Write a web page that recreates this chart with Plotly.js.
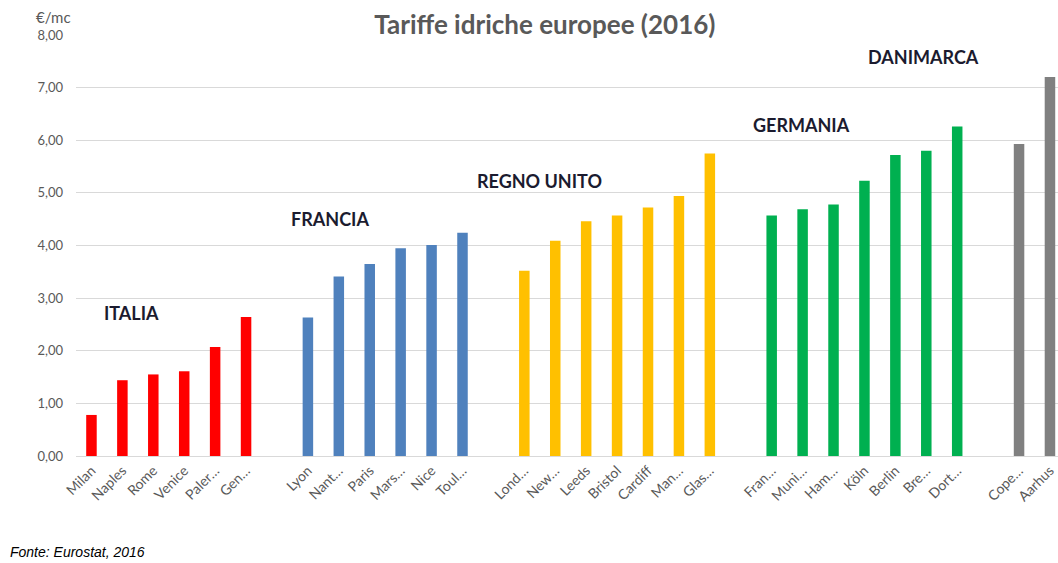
<!DOCTYPE html>
<html>
<head>
<meta charset="utf-8">
<script src="https://cdn.plot.ly/plotly-3.0.1.min.js"></script>
<style>html,body{margin:0;padding:0;background:#fff;}#chart{width:1058px;height:563px;}</style>
</head>
<body>
<div id="chart"></div>
<script>
// Data
const groupNames = ["ITALIA", "FRANCIA", "REGNO UNITO", "GERMANIA", "DANIMARCA"];
const groupColors = ["#ff0000", "#4f81bd", "#ffc000", "#00b050", "#808080"];
const italiaCities = ["Milan", "Naples", "Rome", "Venice", "Paler…", "Gen…"];
const italiaValues = [0.78, 1.44, 1.55, 1.61, 2.07, 2.64];
const franciaCities = ["Lyon", "Nant…", "Paris", "Mars…", "Nice", "Toul…"];
const franciaValues = [2.63, 3.41, 3.65, 3.95, 4.01, 4.24];
const regnoUnitoCities = ["Lond…", "New…", "Leeds", "Bristol", "Cardiff", "Man…", "Glas…"];
const regnoUnitoValues = [3.52, 4.09, 4.46, 4.57, 4.72, 4.94, 5.75];
const germaniaCities = ["Fran…", "Muni…", "Ham…", "Köln", "Berlin", "Bre…", "Dort…"];
const germaniaValues = [4.57, 4.69, 4.78, 5.23, 5.72, 5.80, 6.26];
const danimarcaCities = ["Cope…", "Aarhus"];
const danimarcaValues = [5.93, 7.20];

const groupCities = [italiaCities, franciaCities, regnoUnitoCities, germaniaCities, danimarcaCities];
const groupValues = [italiaValues, franciaValues, regnoUnitoValues, germaniaValues, danimarcaValues];

// Build positions: one empty slot between groups
const traces = [];
const tickvals = [], ticktext = [];
let pos = 0;
groupCities.forEach((cities, g) => {
  const xs = cities.map((c, i) => pos + i);
  xs.forEach((x, i) => { tickvals.push(x); ticktext.push(cities[i]); });
  traces.push({
    type: "bar",
    x: xs,
    y: groupValues[g],
    name: groupNames[g],
    width: 0.34,
    marker: {color: groupColors[g]},
    hoverinfo: "x+y"
  });
  pos += cities.length + 1;
});

// Group label anchors (data coords)
const labelX = [1.29, 7.73, 14.5, 22.98, 26.9];
const labelY = [2.72, 4.5, 5.23, 6.29, 7.59];

const W = 1058, H = 563, mL = 76, mR = 0, mT = 35, mB = 107;
const px2x = p => (p - mL) / (W - mL - mR);
const px2y = p => 1 - (p - mT) / (H - mT - mB);

const annotations = groupNames.map((n, i) => ({
  x: labelX[i], y: labelY[i], xref: "x", yref: "y",
  text: "<b>" + n + "</b>", showarrow: false,
  font: {family: "Lato, 'Open Sans', sans-serif", size: 18, color: "#1b1b2f"},
  xanchor: "center", yanchor: "middle"
}));
annotations.push({
  x: px2x(34), y: px2y(17), xref: "paper", yref: "paper", xanchor: "left", yanchor: "middle",
  text: "€/mc", showarrow: false,
  font: {family: "Lato, 'Open Sans', sans-serif", size: 15, color: "#595959"}
});
annotations.push({
  x: px2x(8), y: px2y(552), xref: "paper", yref: "paper", xanchor: "left", yanchor: "middle",
  text: "<i>Fonte: Eurostat, 2016</i>", showarrow: false,
  font: {family: "'Liberation Sans', Arial, sans-serif", size: 14, color: "#000000"}
});

const layout = {
  width: W, height: H,
  margin: {l: mL, r: mR, t: mT, b: mB},
  paper_bgcolor: "#ffffff", plot_bgcolor: "#ffffff",
  showlegend: false,
  separators: ",.",
  title: {
    text: "<b>Tariffe idriche europee (2016)</b>",
    x: 0.515, xanchor: "center", y: 0.955, yanchor: "middle",
    font: {family: "Lato, 'Open Sans', sans-serif", size: 26, color: "#595959"}
  },
  xaxis: {
    range: [-0.5, 31.26],
    tickvals: tickvals, ticktext: ticktext,
    tickangle: -45,
    ticks: "", showgrid: false, zeroline: false,
    showline: true, linecolor: "#d9d9d9", linewidth: 1,
    tickfont: {family: "Lato, 'Open Sans', sans-serif", size: 14, color: "#595959"}
  },
  yaxis: {
    range: [0, 8], dtick: 1, tickformat: ".2f",
    showgrid: true, gridcolor: "#d9d9d9", gridwidth: 1,
    zeroline: true, zerolinecolor: "#d9d9d9",
    ticks: "", ticklabelstandoff: 12,
    tickfont: {family: "Lato, 'Open Sans', sans-serif", size: 13, color: "#595959"}
  },
  annotations: annotations
};

Plotly.newPlot("chart", traces, layout, {displayModeBar: false, staticPlot: true});
</script>
</body>
</html>
